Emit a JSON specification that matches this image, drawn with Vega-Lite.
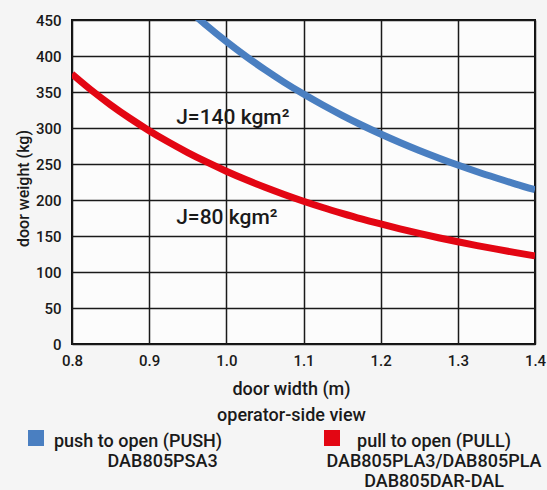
{
  "$schema": "https://vega.github.io/schema/vega-lite/v6.json",
  "width": 463,
  "height": 324,
  "autosize": {"type": "none"},
  "padding": {"left": 72, "top": 20, "right": 12, "bottom": 146},
  "background": "#f5f5f5",
  "config": {
    "font": "Roboto",
    "view": {"fill": "#fcfcfc", "stroke": "#111111", "strokeWidth": 2},
    "axis": {
      "labelFont": "Roboto", "labelFontWeight": 500, "labelFontSize": 15, "labelColor": "#1a1a1a",
      "titleFont": "Roboto", "titleFontWeight": 500, "titleFontSize": 17, "titleColor": "#1a1a1a",
      "grid": true, "gridColor": "#1a1a1a", "gridWidth": 1.5, "gridOpacity": 1,
      "tickSize": 0, "domain": false
    }
  },
  "datasets": {
    "curves": [
      {"series": "pull to open (PULL)", "w": 0.8, "kg": 375.0},
      {"series": "pull to open (PULL)", "w": 0.825, "kg": 352.6},
      {"series": "pull to open (PULL)", "w": 0.85, "kg": 332.2},
      {"series": "pull to open (PULL)", "w": 0.875, "kg": 313.5},
      {"series": "pull to open (PULL)", "w": 0.9, "kg": 296.3},
      {"series": "pull to open (PULL)", "w": 0.925, "kg": 280.5},
      {"series": "pull to open (PULL)", "w": 0.95, "kg": 265.9},
      {"series": "pull to open (PULL)", "w": 0.975, "kg": 252.5},
      {"series": "pull to open (PULL)", "w": 1.0, "kg": 240.0},
      {"series": "pull to open (PULL)", "w": 1.025, "kg": 228.4},
      {"series": "pull to open (PULL)", "w": 1.05, "kg": 217.7},
      {"series": "pull to open (PULL)", "w": 1.075, "kg": 207.7},
      {"series": "pull to open (PULL)", "w": 1.1, "kg": 198.3},
      {"series": "pull to open (PULL)", "w": 1.125, "kg": 189.6},
      {"series": "pull to open (PULL)", "w": 1.15, "kg": 181.5},
      {"series": "pull to open (PULL)", "w": 1.175, "kg": 173.8},
      {"series": "pull to open (PULL)", "w": 1.2, "kg": 166.7},
      {"series": "pull to open (PULL)", "w": 1.225, "kg": 159.9},
      {"series": "pull to open (PULL)", "w": 1.25, "kg": 153.6},
      {"series": "pull to open (PULL)", "w": 1.275, "kg": 147.6},
      {"series": "pull to open (PULL)", "w": 1.3, "kg": 142.0},
      {"series": "pull to open (PULL)", "w": 1.325, "kg": 136.7},
      {"series": "pull to open (PULL)", "w": 1.35, "kg": 131.7},
      {"series": "pull to open (PULL)", "w": 1.375, "kg": 126.9},
      {"series": "pull to open (PULL)", "w": 1.4, "kg": 122.4},
      {"series": "push to open (PUSH)", "w": 0.96, "kg": 455.7},
      {"series": "push to open (PUSH)", "w": 0.975, "kg": 441.8},
      {"series": "push to open (PUSH)", "w": 1.0, "kg": 420.0},
      {"series": "push to open (PUSH)", "w": 1.025, "kg": 399.8},
      {"series": "push to open (PUSH)", "w": 1.05, "kg": 381.0},
      {"series": "push to open (PUSH)", "w": 1.075, "kg": 363.4},
      {"series": "push to open (PUSH)", "w": 1.1, "kg": 347.1},
      {"series": "push to open (PUSH)", "w": 1.125, "kg": 331.9},
      {"series": "push to open (PUSH)", "w": 1.15, "kg": 317.6},
      {"series": "push to open (PUSH)", "w": 1.175, "kg": 304.2},
      {"series": "push to open (PUSH)", "w": 1.2, "kg": 291.7},
      {"series": "push to open (PUSH)", "w": 1.225, "kg": 279.9},
      {"series": "push to open (PUSH)", "w": 1.25, "kg": 268.8},
      {"series": "push to open (PUSH)", "w": 1.275, "kg": 258.4},
      {"series": "push to open (PUSH)", "w": 1.3, "kg": 248.5},
      {"series": "push to open (PUSH)", "w": 1.325, "kg": 239.2},
      {"series": "push to open (PUSH)", "w": 1.35, "kg": 230.5},
      {"series": "push to open (PUSH)", "w": 1.375, "kg": 222.1},
      {"series": "push to open (PUSH)", "w": 1.4, "kg": 214.3}
    ],
    "notes": [
      {"w": 0.935, "kg": 306, "label": "J=140 kgm²"},
      {"w": 0.935, "kg": 167, "label": "J=80 kgm²"}
    ]
  },
  "encoding": {
    "x": {
      "field": "w", "type": "quantitative",
      "scale": {"domain": [0.8, 1.4], "nice": false, "zero": false},
      "axis": {
        "values": [0.8, 0.9, 1.0, 1.1, 1.2, 1.3, 1.4], "format": ".1f",
        "labelPadding": 9, "labelFlush": false, "labelOverlap": false,
        "title": ["door width (m)", "operator-side view"],
        "titleFontSize": 18, "titleLineHeight": 26, "titleX": 219, "titlePadding": 12
      }
    },
    "y": {
      "field": "kg", "type": "quantitative",
      "scale": {"domain": [0, 450], "nice": false},
      "axis": {
        "values": [0, 50, 100, 150, 200, 250, 300, 350, 400, 450],
        "labelPadding": 11, "labelFlush": false, "labelOverlap": false,
        "title": "door weight (kg)", "titleFontSize": 16, "titlePadding": 4, "titleY": 168
      }
    }
  },
  "layer": [
    {
      "data": {"name": "curves"},
      "mark": {"type": "line", "strokeWidth": 7, "clip": true, "interpolate": "monotone"},
      "encoding": {
        "color": {
          "field": "series", "type": "nominal",
          "scale": {"domain": ["push to open (PUSH)", "pull to open (PULL)"], "range": ["#4a7fc1", "#e30613"]},
          "legend": {
            "orient": "none", "legendX": -45, "legendY": 409,
            "direction": "horizontal", "title": null, "padding": 0,
            "symbolType": "square", "symbolSize": 256, "symbolStrokeWidth": 0,
            "labelFont": "Roboto", "labelFontSize": 18, "labelFontWeight": 500, "labelColor": "#1a1a1a",
            "labelAlign": "center", "labelOffset": 93, "labelBaseline": "top", "labelLineHeight": 20,
            "labelLimit": 0, "columnPadding": 100,
            "labelExpr": "datum.label == 'push to open (PUSH)' ? ['push to open (PUSH)', '\u200b\u00a0\u00a0\u00a0\u00a0\u00a0\u00a0\u00a0\u00a0\u00a0\u00a0\u00a0DAB805PSA3', '\u200b\u00a0'] : ['pull to open (PULL)', 'DAB805PLA3/DAB805PLA', 'DAB805DAR-DAL']",
            "encode": {
              "symbols": {"update": {"fill": {"scale": "color", "field": "value"}, "stroke": {"value": "transparent"}}},
              "labels": {"update": {"dy": {"value": -5}}}
            }
          }
        }
      }
    },
    {
      "data": {"name": "notes"},
      "mark": {"type": "text", "align": "left", "baseline": "alphabetic", "font": "Roboto", "fontSize": 21, "fontWeight": 500, "color": "#1a1a1a"},
      "encoding": {
        "text": {"field": "label"}
      }
    }
  ]
}
